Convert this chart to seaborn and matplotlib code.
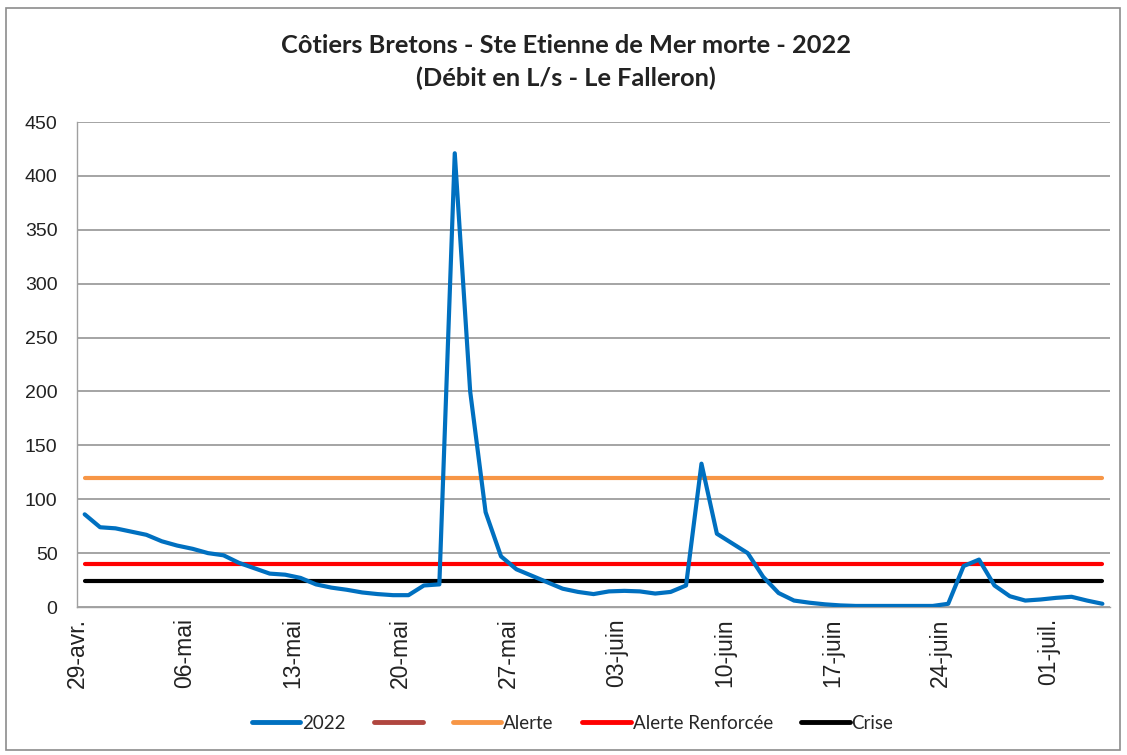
import numpy as np
import pandas as pd
import matplotlib
matplotlib.use("Agg")
import matplotlib.pyplot as plt
from matplotlib.lines import Line2D
from matplotlib.patches import Rectangle
import seaborn as sns

# ---- data ----
start_date = "2022-04-29"
debit_2022 = [86, 74, 73, 70, 67, 61, 57, 54, 50, 48, 41, 36, 31, 30, 27, 21, 18, 16, 13.5, 12,
              11, 11, 20, 21, 421, 200, 88, 47, 35, 29, 23, 17, 14, 12, 14.5, 15, 14.5, 12.5, 14, 20,
              133, 68, 59, 50, 28, 13, 6, 4, 2.5, 1.5, 1, 1, 1, 1, 1, 1, 3, 38, 44, 20,
              10, 6, 7, 8.5, 9.5, 6, 3]
seuil_alerte = 120
seuil_renforcee = 40
seuil_crise = 24
tick_labels = ["29-avr.", "06-mai", "13-mai", "20-mai", "27-mai", "03-juin",
               "10-juin", "17-juin", "24-juin", "01-juil."]
series_names = ["2022", "", "Alerte", "Alerte Renforcée", "Crise"]
series_colors = ["#0070C0", "#B0463F", "#F79646", "#FF0000", "#000000"]

dates = pd.date_range(start_date, periods=len(debit_2022), freq="D")
n = len(dates)
df = pd.concat([
    pd.DataFrame({"date": dates, "val": debit_2022, "serie": "2022"}),
    pd.DataFrame({"date": dates, "val": np.full(n, seuil_alerte, float), "serie": "Alerte"}),
    pd.DataFrame({"date": dates, "val": np.full(n, seuil_renforcee, float), "serie": "Alerte Renforcée"}),
    pd.DataFrame({"date": dates, "val": np.full(n, seuil_crise, float), "serie": "Crise"}),
], ignore_index=True)

sns.set_theme(style="white")
plt.rcParams["font.family"] = ["Lato", "DejaVu Sans"]

fig = plt.figure(figsize=(11.27, 7.55), dpi=100)
ax = fig.add_axes([0.0683, 0.196, 0.9167, 0.6424])

palette = {"2022": series_colors[0], "Alerte": series_colors[2],
           "Alerte Renforcée": series_colors[3], "Crise": series_colors[4]}
order = ["Alerte", "Alerte Renforcée", "Crise", "2022"]
for name in order:
    sub = df[df["serie"] == name]
    sns.lineplot(data=sub, x="date", y="val", color=palette[name], lw=3.0,
                 ax=ax, legend=False, zorder=3 if name == "2022" else 2)

half = pd.Timedelta(hours=12)
ax.set_xlim(dates[0] - half, dates[-1] + half)
ax.set_ylim(0, 450)
ax.set_yticks(np.arange(0, 451, 50))
tick_pos = [dates[0] - half + pd.Timedelta(days=7 * k) for k in range(len(tick_labels))]
ax.set_xticks(tick_pos)
ax.set_xticklabels(tick_labels, rotation=90, fontsize=16.5,
                   family=["Liberation Sans", "DejaVu Sans"])
for lab in ax.get_yticklabels():
    lab.set_family(["Liberation Sans", "DejaVu Sans"])
    lab.set_fontsize(14)
ax.set_xlabel("")
ax.set_ylabel("")

ax.yaxis.grid(True, color="#8C8C8C", lw=1.1)
ax.set_axisbelow(True)
for s in ["top", "right"]:
    ax.spines[s].set_visible(False)
for s in ["left", "bottom"]:
    ax.spines[s].set_color("#A0A0A0")
    ax.spines[s].set_linewidth(1.0)
ax.tick_params(axis="both", which="major", length=4, width=1, color="#A0A0A0",
               direction="out", labelcolor="#222222")
ax.tick_params(axis="y", pad=10)
ax.tick_params(axis="x", pad=4)

fig.text(0.502, 0.94, "Côtiers Bretons - Ste Etienne de Mer morte - 2022",
         ha="center", va="center", fontsize=18.3, fontweight="bold", color="#222222")
fig.text(0.502, 0.896, "(Débit en L/s - Le Falleron)",
         ha="center", va="center", fontsize=18.3, fontweight="bold", color="#222222")

handles = [Line2D([0], [0], color=c, lw=3.5) for c in series_colors]
fig.legend(handles, series_names, loc="center", bbox_to_anchor=(0.508, 0.042),
           ncol=5, frameon=False, handlelength=2.6, handletextpad=0.1,
           columnspacing=1.5, prop={"family": ["Liberation Sans Narrow", "Lato"], "size": 13.5})

fig.patches.append(Rectangle((0.005, 0.006), 0.989, 0.984, transform=fig.transFigure,
                             fill=False, edgecolor="#8C8C8C", lw=1.2))

fig.savefig("out.png", dpi=100, facecolor="white")
